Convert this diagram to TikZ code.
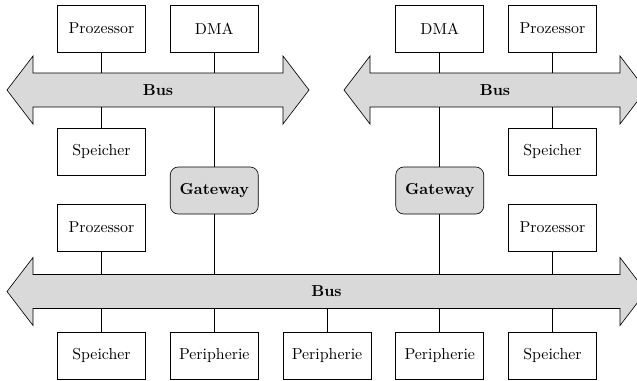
\documentclass[tikz,border=0pt]{standalone}
% Double-headed bus arrow: left tip x, right tip x, centre y, name
\newcommand\busshape[4]{%
  \draw[bus] (#1,#3) -- (#1+26,#3-34) -- (#1+26,#3-17) -- (#2-26,#3-17)
    -- (#2-26,#3-34) -- (#2,#3) -- (#2-26,#3+34) -- (#2-26,#3+17)
    -- (#1+26,#3+17) -- (#1+26,#3+34) -- cycle;
  \coordinate (#4-n) at (#1,#3-17);
  \coordinate (#4-s) at (#1,#3+17);
  \node[font=\bfseries] (#4) at ({(#1+#2)/2},#3) {Bus};}
\begin{document}
\begin{tikzpicture}[x=0.63pt,y=-0.63pt,
  unit/.style={draw,fill=white,minimum width=55.4pt,minimum height=29.6pt,inner sep=0pt},
  gateway/.style={unit,fill=gray!30,rounded corners=5pt,font=\bfseries},
  bus/.style={draw,fill=gray!30,line join=miter},
  link/.style={draw}]
\useasboundingbox (0,0) rectangle (637,380);
\clip (0,0) rectangle (637,380);

% buses
\busshape{7}{309}{90}{busL}
\busshape{344}{646}{90}{busR}
\busshape{7}{646}{291.5}{busB}

% left subsystem
\node[unit] (pTL) at (101.5,28.5) {Prozessor};
\node[unit] (dTL) at (214.25,28.5) {DMA};
\node[unit] (sTL) at (101.5,151.5) {Speicher};
\node[gateway] (gL) at (214.25,190.5) {Gateway};

% right subsystem
\node[unit] (dTR) at (439.75,28.5) {DMA};
\node[unit] (pTR) at (552.5,28.5) {Prozessor};
\node[unit] (sTR) at (552.5,151.5) {Speicher};
\node[gateway] (gR) at (439.75,190.5) {Gateway};

% main bus
\node[unit] (pBL) at (101.5,227.5) {Prozessor};
\node[unit] (pBR) at (552.5,227.5) {Prozessor};
\node[unit] (sB1) at (101.5,355.5) {Speicher};
\node[unit] (per1) at (214.25,355.5) {Peripherie};
\node[unit] (per2) at (327,355.5) {Peripherie};
\node[unit] (per3) at (439.75,355.5) {Peripherie};
\node[unit] (sB2) at (552.5,355.5) {Speicher};

% connectors
\draw[link] (pTL.south) -- (pTL.south |- busL-n);
\draw[link] (dTL.south) -- (dTL.south |- busL-n);
\draw[link] (sTL.north) -- (sTL.north |- busL-s);
\draw[link] (gL.north) -- (gL.north |- busL-s);
\draw[link] (gL.south) -- (gL.south |- busB-n);

\draw[link] (dTR.south) -- (dTR.south |- busR-n);
\draw[link] (pTR.south) -- (pTR.south |- busR-n);
\draw[link] (sTR.north) -- (sTR.north |- busR-s);
\draw[link] (gR.north) -- (gR.north |- busR-s);
\draw[link] (gR.south) -- (gR.south |- busB-n);

\draw[link] (pBL.south) -- (pBL.south |- busB-n);
\draw[link] (pBR.south) -- (pBR.south |- busB-n);
\foreach \n in {sB1,per1,per2,per3,sB2}
  \draw[link] (\n.north) -- (\n.north |- busB-s);
\end{tikzpicture}
\end{document}
